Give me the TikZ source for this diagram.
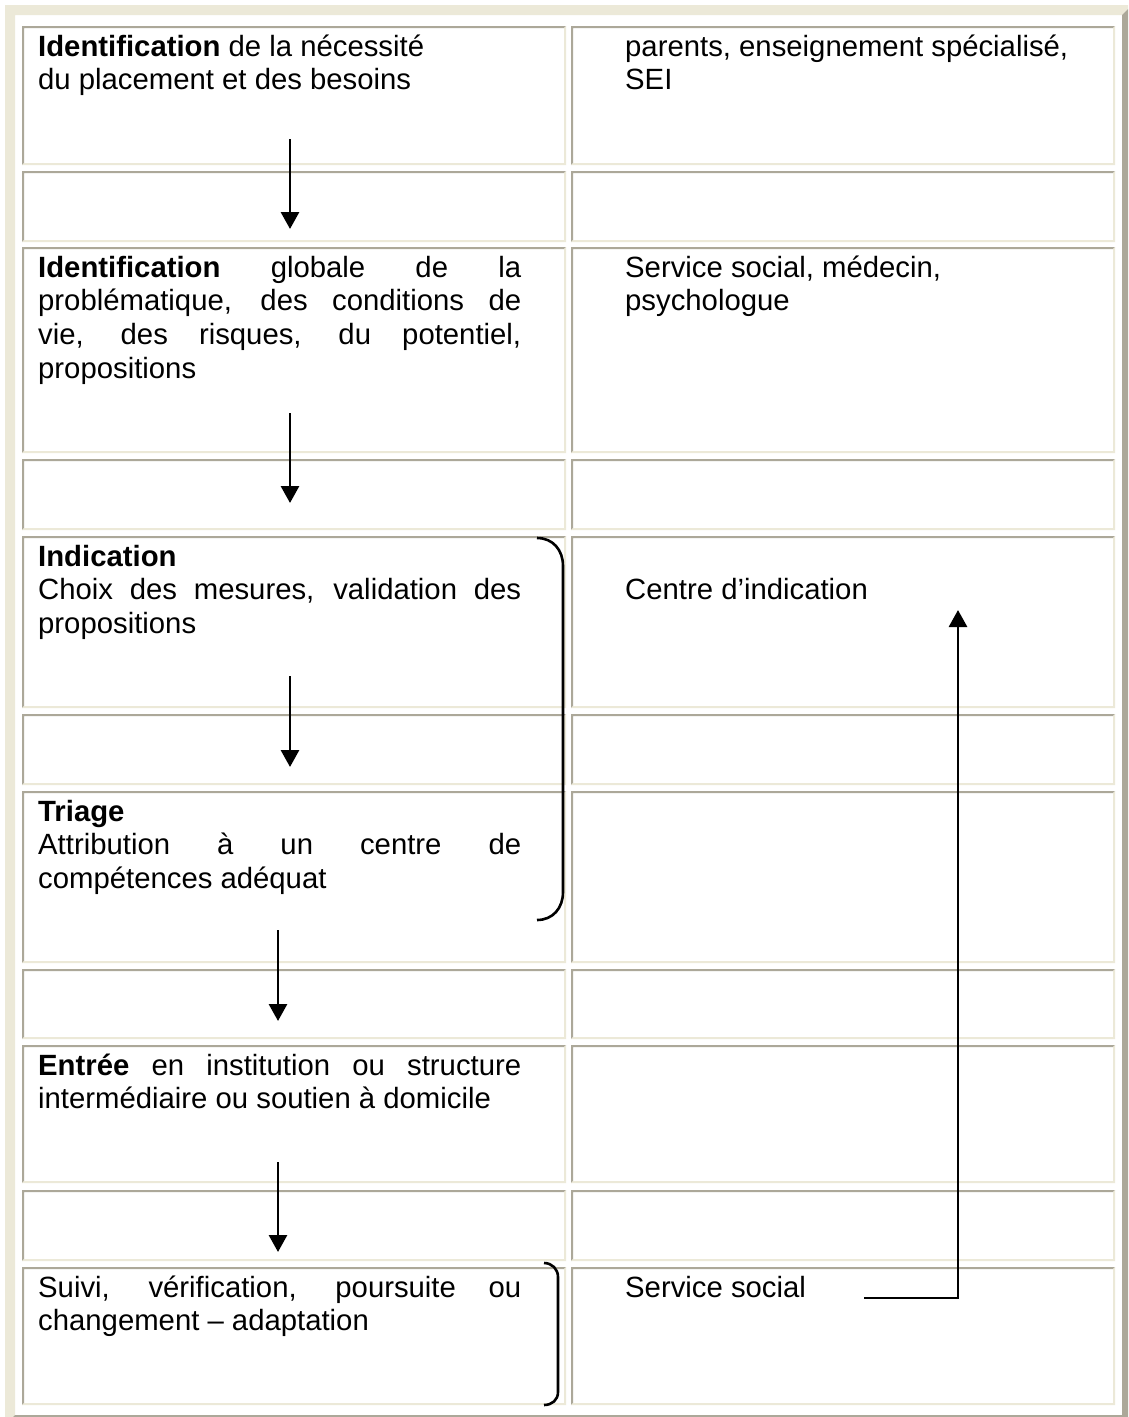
\documentclass[tikz,border=0pt]{standalone}
\usepackage{fontspec}
\setmainfont{Liberation Sans}
\usetikzlibrary{arrows.meta}
\definecolor{lite}{HTML}{ECE9D8}
\definecolor{dark}{HTML}{ACA899}
\newcommand{\mycell}[4]{%
  \fill[dark] (#1,#2) -- (#3,#2) -- (#3-2,#2+2) -- (#1+2,#2+2) -- (#1+2,#4-2) -- (#1,#4) -- cycle;
  \fill[lite] (#3,#2) -- (#3,#4) -- (#1,#4) -- (#1+2,#4-2) -- (#3-2,#4-2) -- (#3-2,#2+2) -- cycle;
}
\tikzset{
  txt/.style={anchor=base west, inner sep=0pt, font=\fontsize{29.3}{33.7}\selectfont},
  arr/.style={line width=2.9pt, -{Triangle[width=18pt,length=17pt]}},
  brace/.style={line width=2.6pt},
}
\newcommand{\jl}[1]{\makebox[483pt][s]{#1}}
\begin{document}
\begin{tikzpicture}[x=1pt,y=-1pt]
\useasboundingbox (0,0) rectangle (1128,1417);
\clip (0,0) rectangle (1128,1417);
\fill[white] (0,0) rectangle (1128,1417);
% outer table border (outset)
\fill[lite] (5,5) -- (1132,5) -- (1122,15) -- (15,15) -- (15,1415) -- (5,1425) -- cycle;
\fill[dark] (1132,5) -- (1132,1425) -- (5,1425) -- (15,1415) -- (1122,1415) -- (1122,15) -- cycle;
% cells (inset)
\foreach \t/\b in {26/165,171/242,247/453,459/530,536/708,714/785,791/963,969/1039,1045/1183,1190/1261,1267/1405}{
  \mycell{22}{\t}{566}{\b}
  \mycell{571}{\t}{1115}{\b}
}
% left column text
\node[txt] (l1a) at (38,56) {\textbf{Identification} de la nécessité};
\node[txt] (l1b) at (38,89.7) {du placement et des besoins};
\node[txt] (l3a) at (38,277) {\jl{\textbf{Identification} globale de la}};
\node[txt] (l3b) at (38,310.7) {\jl{problématique, des conditions de}};
\node[txt] (l3c) at (38,344.4) {\jl{vie, des risques, du potentiel,}};
\node[txt] (l3d) at (38,378.1) {propositions};
\node[txt] (l5a) at (38,566) {\textbf{Indication}};
\node[txt] (l5b) at (38,599.7) {\jl{Choix des mesures, validation des}};
\node[txt] (l5c) at (38,633.4) {propositions};
\node[txt] (l7a) at (38,821) {\textbf{Triage}};
\node[txt] (l7b) at (38,854.7) {\jl{Attribution à un centre de}};
\node[txt] (l7c) at (38,888.4) {compétences adéquat};
\node[txt] (l9a) at (38,1075) {\jl{\textbf{Entrée} en institution ou structure}};
\node[txt] (l9b) at (38,1108.7) {intermédiaire ou soutien à domicile};
\node[txt] (l11a) at (38,1297) {\jl{Suivi, vérification, poursuite ou}};
\node[txt] (l11b) at (38,1330.7) {changement – adaptation};
% right column text
\node[txt] (r1a) at (625,56) {parents, enseignement spécialisé,};
\node[txt] (r1b) at (625,89.7) {SEI};
\node[txt] (r3a) at (625,277) {Service social, médecin,};
\node[txt] (r3b) at (625,310.7) {psychologue};
\node[txt] (r5a) at (625,599.7) {Centre d’indication};
\node[txt] (r11a) at (625,1297) {Service social};
% down arrows
\coordinate (a1s) at (290,139); \coordinate (a1e) at (290,229);
\coordinate (a2s) at (290,413); \coordinate (a2e) at (290,503);
\coordinate (a3s) at (290,676); \coordinate (a3e) at (290,767);
\coordinate (a4s) at (278,930); \coordinate (a4e) at (278,1021);
\coordinate (a5s) at (278,1162); \coordinate (a5e) at (278,1252);
\foreach \i in {1,...,5}{\draw[arr] (a\i s) -- (a\i e);}
% braces
\coordinate (b1s) at (537,538); \coordinate (b1e) at (537,920);
\draw[brace] (b1s) .. controls (553,538) and (563,550) .. (563,566) -- (563,892) .. controls (563,908) and (553,920) .. (b1e);
\coordinate (b2s) at (544,1263); \coordinate (b2e) at (544,1405);
\draw[brace] (b2s) .. controls (552,1263) and (558,1269) .. (558,1277) -- (558,1392) .. controls (558,1400) and (552,1405) .. (b2e);
% feedback arrow
\coordinate (fs) at (864,1298); \coordinate (fc) at (958,1298); \coordinate (fe) at (958,610);
\draw[arr] (fs) -- (fc) -- (fe);
\end{tikzpicture}
\end{document}
